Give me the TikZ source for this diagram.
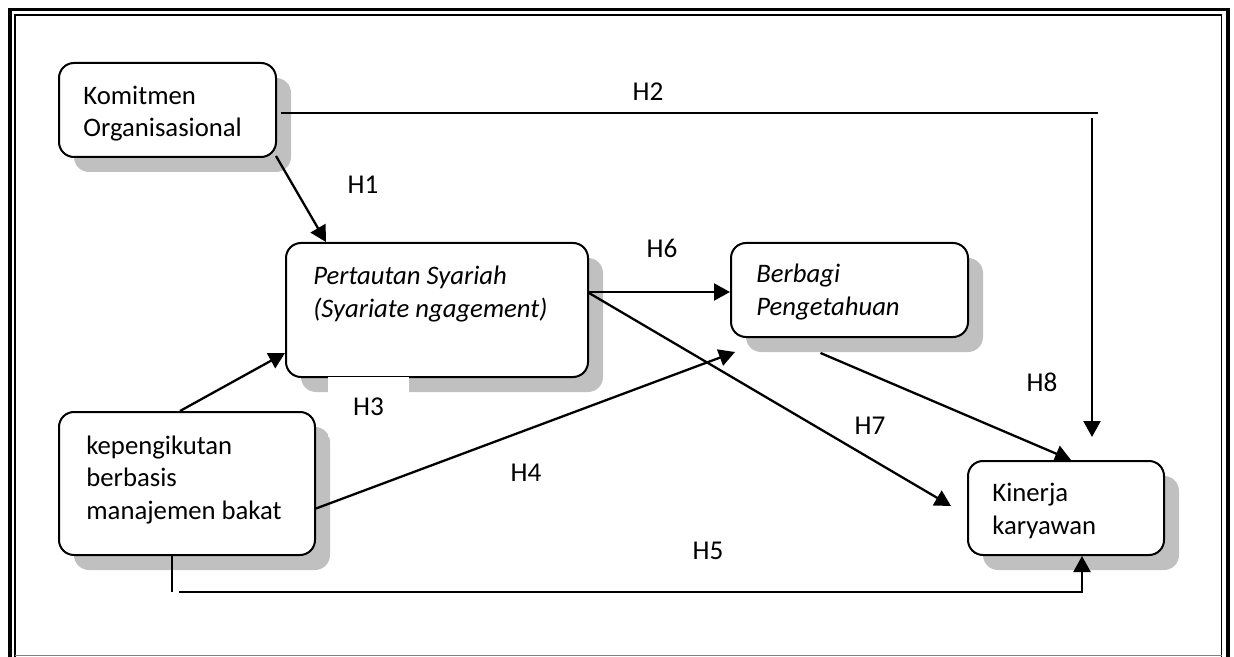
\documentclass[tikz,border=0pt]{standalone}
\usepackage{fontspec}
\setmainfont{Carlito}
\usetikzlibrary{shadows,calc,arrows.meta}
\definecolor{shadowgray}{RGB}{192,192,192}
\tikzset{
  vbox/.style={draw=black, line width=1pt, fill=white, rounded corners=7.5pt, inner sep=0pt,
    drop shadow={shadow xshift=7.5pt, shadow yshift=-7.5pt, fill=shadowgray, opacity=1}},
  txt/.style={anchor=base west, inner sep=0pt, align=left, font=\fontsize{13.35}{16.25}\selectfont},
  lbl/.style={inner sep=0pt, font=\fontsize{13.6}{16.25}\selectfont},
  conn/.style={line width=1.15pt},
  arr/.style={line width=1.15pt, -{Triangle[length=8pt,width=8.5pt]}}
}
\begin{document}
\begin{tikzpicture}[x=0.5pt,y=-0.5pt]
\useasboundingbox (0,0) rectangle (1234,657);
\clip (0,0) rectangle (1234,657);
% frame
\draw[line width=1.75pt] (10,670) -- (10,9.5) -- (1228,9.5) -- (1228,670);
\draw[line width=0.75pt] (15,670) -- (15,15) -- (1221.5,15) -- (1221.5,670);
\draw[gray, line width=0.75pt] (15,655.5) -- (1221.5,655.5);
% boxes
\node[vbox, minimum width=108.5pt, minimum height=47pt] (ko) at (167.5,110) {};
\node[vbox, minimum width=151pt, minimum height=67pt] (ps) at (437,310) {};
\node[vbox, minimum width=118.5pt, minimum height=47pt] (bp) at (849.5,290) {};
\node[vbox, minimum width=128pt, minimum height=71.5pt] (kb) at (187,483.5) {};
\node[vbox, minimum width=98pt, minimum height=47pt] (kk) at (1066,508) {};
% texts (anchor = baseline of last line)
\node[txt] (tko) at (83,137) {Komitmen\\Organisasional};
\node[txt, font=\fontsize{13.35}{16.25}\selectfont\itshape] (tps) at (313,317) {Pertautan Syariah\\(Syariate ngagement)};
\node[txt, font=\fontsize{13.35}{16.25}\selectfont\itshape] (tbp) at (756,315) {Berbagi\\Pengetahuan};
\node[txt] (tkb) at (86,519) {kepengikutan\\berbasis\\manajemen bakat};
\node[txt] (tkk) at (992,534) {Kinerja\\karyawan};
% labels
\node[lbl] (h1) at (363,185) {H1};
\node[lbl] (h2) at (648,92) {H2};
\node[lbl, fill=white, minimum width=40.5pt, minimum height=30pt] (h3) at (368.5,407) {H3};
\node[lbl] (h4) at (526,473) {H4};
\node[lbl] (h5) at (708,551) {H5};
\node[lbl] (h6) at (662,248) {H6};
\node[lbl] (h7) at (870,426) {H7};
\node[lbl] (h8) at (1042,382) {H8};
% free ends
\coordinate (h2end) at (1098,113);
\coordinate (h2top) at (1092,118);
\coordinate (h2tip) at (1092,437);
\coordinate (h4tip) at (735,352);
\coordinate (h7tip) at (951,506);
\coordinate (h5corner) at (172,592);
\coordinate (h5start) at (179,592);
% connectors
\draw[arr] ($(ko.south east)+(-1,-2)$) -- ($(ps.north west)+(41,0)$);
\draw[conn] ($(ko.east)+(4,3)$) -- (h2end);
\draw[arr] (h2top) -- (h2tip);
\draw[arr] ($(kb.north)+(-7,0)$) -- ($(ps.west)+(0,43)$);
\draw[arr] ($(kb.east)+(0,25)$) -- (h4tip);
\draw[conn] ($(kb.south)+(-15,0)$) -- (h5corner);
\draw[arr] (h5start) -| ($(kk.south)+(16,0)$);
\draw[arr] ($(ps.east)+(0,-18)$) -- ($(bp.west)+(0,2)$);
\draw[arr] ($(ps.east)+(0,-17)$) -- (h7tip);
\draw[arr] ($(bp.south)+(-29,15)$) -- ($(kk.north)+(5,0)$);
\end{tikzpicture}
\end{document}
